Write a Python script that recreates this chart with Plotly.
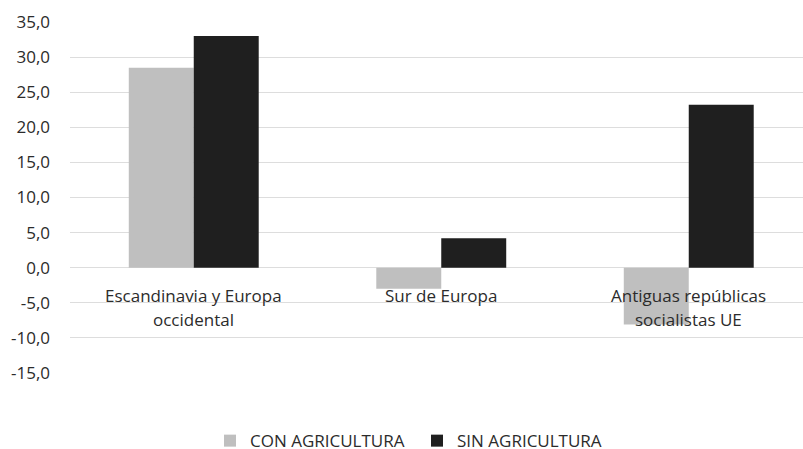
import plotly.graph_objects as go

# Regional change, with and without agriculture
categories = ["Escandinavia y Europa<br>occidental", "Sur de Europa",
              "Antiguas repúblicas<br>socialistas UE"]
con_agricultura = [28.5, -3.0, -8.1]
sin_agricultura = [33.0, 4.2, 23.2]
series_names = ["CON AGRICULTURA", "SIN AGRICULTURA"]

y_ticks = [-15, -10, -5, 0, 5, 10, 15, 20, 25, 30, 35]
y_tick_labels = ["-15,0", "-10,0", "-5,0", "0,0", "5,0", "10,0", "15,0",
                 "20,0", "25,0", "30,0", "35,0"]

FONT = "Open Sans"
TEXT = "#2b2b2b"
x_idx = list(range(len(categories)))

fig = go.Figure()
fig.add_trace(go.Bar(x=x_idx, y=con_agricultura, name=series_names[0],
                     marker=dict(color="#BFBFBF", line=dict(width=0))))
fig.add_trace(go.Bar(x=x_idx, y=sin_agricultura, name=series_names[1],
                     marker=dict(color="#1F1F1F", line=dict(width=0))))

# category labels sit just under the zero line, one annotation per text line
annotations = []
for i, label in enumerate(categories):
    for j, line in enumerate(label.split("<br>")):
        annotations.append(dict(
            x=i, y=0, xref="x", yref="y", text=line, showarrow=False,
            xanchor="center", yanchor="middle", yshift=-28 - 24 * j,
            font=dict(family=FONT, size=17, color=TEXT)))

fig.update_layout(
    width=803, height=449,
    margin=dict(l=70, r=0, t=22, b=76, autoexpand=False),
    paper_bgcolor="white", plot_bgcolor="white",
    barmode="group", bargap=0.475, bargroupgap=0,
    font=dict(family=FONT, size=17, color=TEXT),
    xaxis=dict(range=[-0.5, 2.4616], showticklabels=False, showgrid=False,
               zeroline=False, showline=False, fixedrange=True),
    yaxis=dict(range=[-15, 35], tickvals=y_ticks, ticktext=y_tick_labels,
               showgrid=True, gridcolor="#DDDDDD", gridwidth=1,
               zeroline=True, zerolinecolor="#DDDDDD", zerolinewidth=1,
               showline=False, ticks="", ticklabelstandoff=19,
               tickfont=dict(family=FONT, size=17, color=TEXT)),
    legend=dict(orientation="h", x=0.4734, xanchor="center", y=-0.194,
                yanchor="middle", font=dict(family=FONT, size=17, color=TEXT),
                entrywidth=162, itemwidth=30, traceorder="normal"),
    annotations=annotations,
)

fig.write_html("out.html")
